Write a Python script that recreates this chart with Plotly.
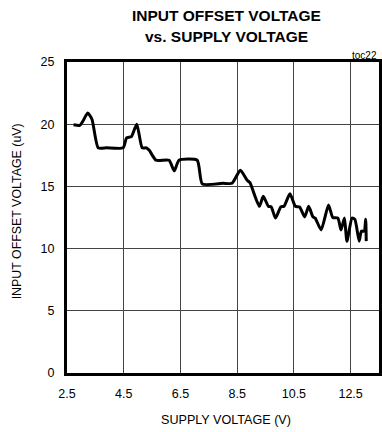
import plotly.graph_objects as go

# Input offset voltage (uV) measured against supply voltage (V)
supply_v = [2.73, 2.95, 3.05, 3.23, 3.38, 3.6, 3.9, 4.48, 4.6, 4.77, 4.96, 5.15,
            5.3, 5.4, 5.64, 6.1, 6.28, 6.45, 7.09, 7.27, 8.0, 8.32, 8.61, 8.85,
            8.95, 9.28, 9.42, 9.6, 9.7, 9.85, 10.04, 10.15, 10.36, 10.55, 10.7,
            10.88, 11.02, 11.17, 11.25, 11.46, 11.72, 11.87, 12.05, 12.16, 12.28,
            12.37, 12.55, 12.65, 12.8, 12.88, 12.98, 13.03, 13.05]
offset_uv = [19.95, 19.9, 20.2, 20.9, 20.4, 18.1, 18.1, 18.1, 18.9, 19.0, 20.0, 18.1,
             18.1, 17.9, 17.1, 17.1, 16.25, 17.1, 17.1, 15.2, 15.25, 15.25, 16.3, 15.5,
             15.3, 13.4, 14.2, 13.4, 13.35, 12.45, 13.35, 13.4, 14.4, 13.4, 13.35,
             12.55, 13.4, 12.55, 12.45, 11.5, 13.5, 12.5, 12.45, 11.5, 12.45,
             10.6, 12.45, 12.35, 10.6, 11.4, 11.4, 12.35, 10.6]

x_ticks = [2.5, 4.5, 6.5, 8.5, 10.5, 12.5]
x_tick_text = ["2.5", "4.5", "6.5", "8.5", "10.5", "12.5"]
y_ticks = [0, 5, 10, 15, 20, 25]
y_tick_text = ["0", "5", "10", "15", "20", "25"]

FONT = "Liberation Sans Narrow, Arial Narrow, Liberation Sans, Arial, sans-serif"

fig = go.Figure()
fig.add_trace(go.Scatter(
    x=supply_v, y=offset_uv, mode="lines",
    line=dict(color="black", width=3, shape="spline", smoothing=0.55),
    hoverinfo="skip", showlegend=False,
))

axis_common = dict(
    showline=True, linecolor="black", linewidth=3, mirror=True,
    showgrid=True, gridcolor="#444444", gridwidth=1,
    zeroline=False, ticks="", ticklabelstandoff=7,
    tickfont=dict(family=FONT, size=12.5, color="black"),
    fixedrange=True,
)

fig.update_xaxes(range=[2.5, 13.5], tickvals=x_ticks, ticktext=x_tick_text, **axis_common)
fig.update_yaxes(range=[0, 25], tickvals=y_ticks, ticktext=y_tick_text, **axis_common)

annotations = [
    dict(text="<b>INPUT OFFSET VOLTAGE</b>", x=0.511, y=1.151, size=15.5),
    dict(text="<b>vs. SUPPLY VOLTAGE</b>", x=0.511, y=1.0836, size=15.5),
    dict(text="SUPPLY VOLTAGE (V)", x=0.511, y=-0.151, size=12.6),
]
for a in annotations:
    fig.add_annotation(
        text=a["text"], x=a["x"], y=a["y"], xref="paper", yref="paper",
        xanchor="center", yanchor="middle", showarrow=False,
        font=dict(family=FONT, size=a["size"], color="black"),
    )

fig.add_annotation(
    text="INPUT OFFSET VOLTAGE (uV)", x=-0.159, y=0.521, xref="paper", yref="paper",
    xanchor="center", yanchor="middle", showarrow=False, textangle=-90,
    font=dict(family=FONT, size=12.4, color="black"),
)
fig.add_annotation(
    text="toc22", x=1.0, y=1.0225, xref="paper", yref="paper",
    xanchor="right", yanchor="middle", showarrow=False,
    font=dict(family=FONT, size=10, color="black"),
)

fig.update_layout(
    width=382, height=432,
    margin=dict(l=67, r=0, t=62, b=59),
    paper_bgcolor="white", plot_bgcolor="white",
    font=dict(family=FONT, color="black"),
)

fig.write_html("out.html", config={"displayModeBar": False})
